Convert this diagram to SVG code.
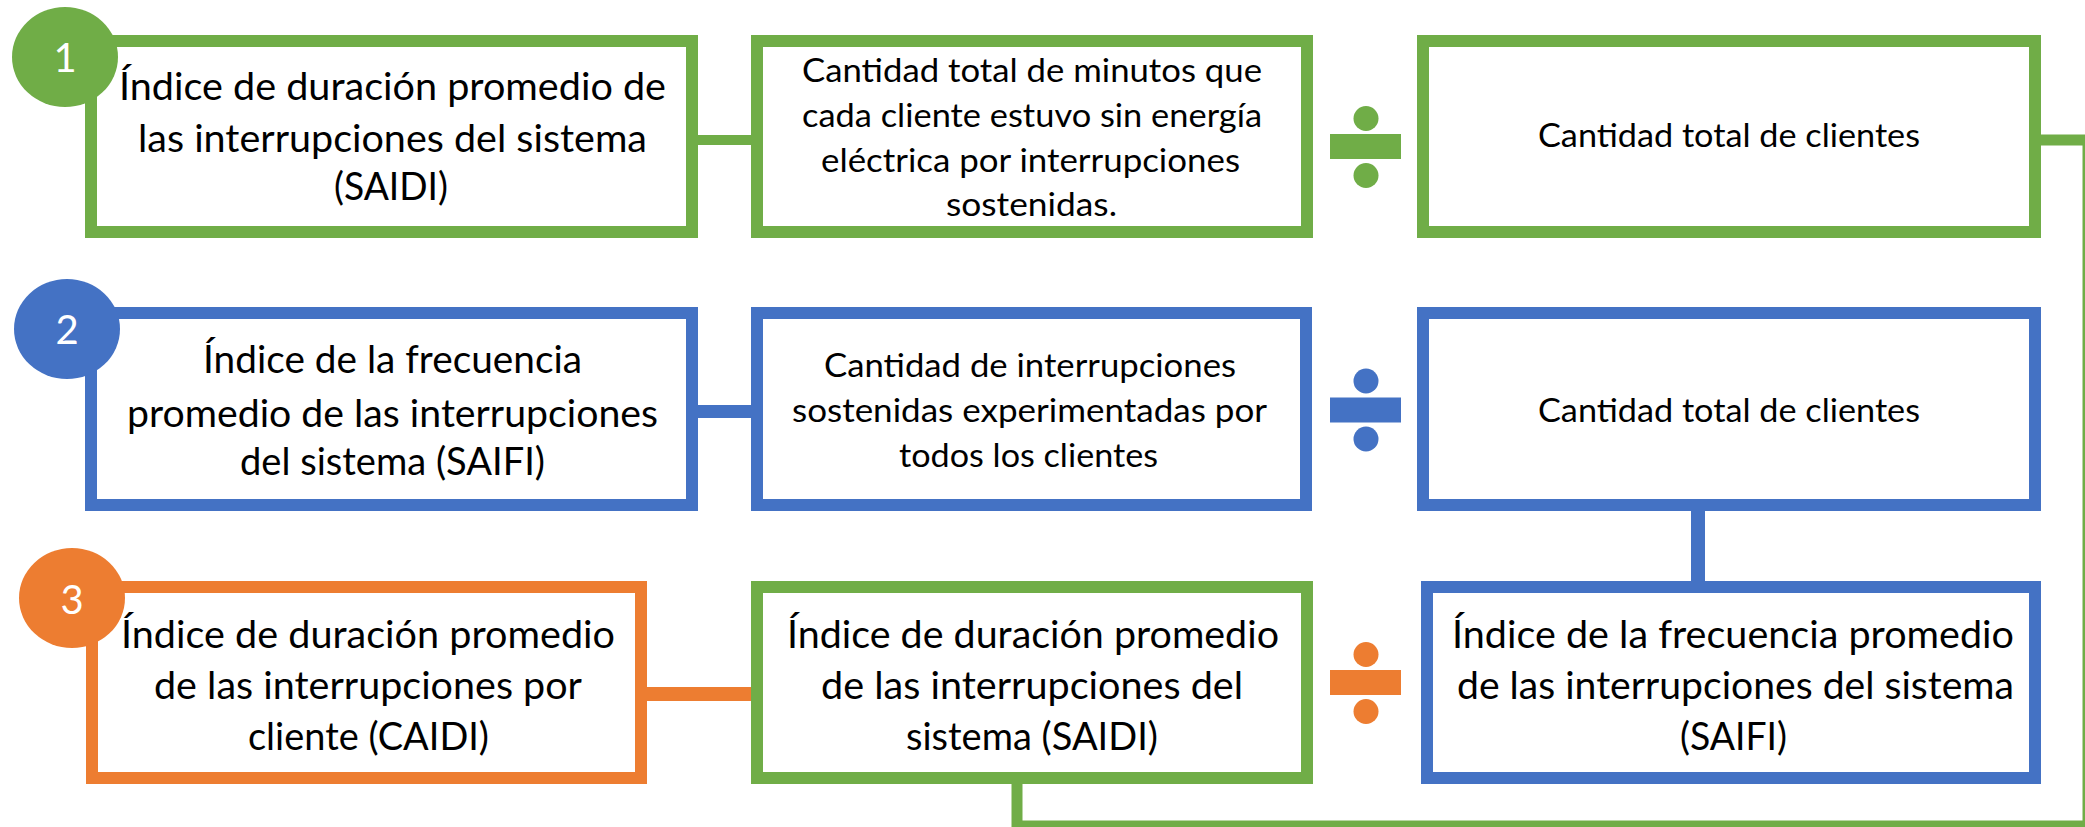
<svg xmlns="http://www.w3.org/2000/svg" width="2085" height="827" viewBox="0 0 2085 827">
<style>
  .box{fill:#ffffff;stroke-width:12}
  .g{stroke:#70AD47}
  .b{stroke:#4472C4}
  .o{stroke:#ED7D31}
  .t{font-family:Lato,"Liberation Sans",sans-serif;fill:#000000}
  .tl{font-size:38.5px}
  .ts{font-size:33.5px}
  .num{font-family:Lato,"Liberation Sans",sans-serif;font-size:40px;fill:#ffffff;text-anchor:middle}
  .gf{fill:#70AD47}
  .bf{fill:#4472C4}
  .of{fill:#ED7D31}
</style>
<rect x="0" y="0" width="2085" height="827" fill="#ffffff"/>

<g id="connectors" fill="none">
  <line x1="698" y1="140" x2="751" y2="140" stroke="#70AD47" stroke-width="10"/>
  <line x1="698" y1="411.5" x2="751" y2="411.5" stroke="#4472C4" stroke-width="13"/>
  <line x1="647" y1="694" x2="751" y2="694" stroke="#ED7D31" stroke-width="14"/>
  <line x1="1698" y1="511" x2="1698" y2="581" stroke="#4472C4" stroke-width="14"/>
  <path d="M2041,140 H2088 V826 H1017 V784" stroke="#70AD47" stroke-width="11"/>
</g>

<g id="saidi-index">
  <rect class="box g" x="91" y="41" width="601" height="191"/>
  <text class="t tl" x="119" y="100" textLength="547" lengthAdjust="spacingAndGlyphs">Índice de duración promedio de</text>
  <text class="t tl" x="138" y="151.5" textLength="509" lengthAdjust="spacingAndGlyphs">las interrupciones del sistema</text>
  <text class="t tl" x="334" y="200" textLength="114" lengthAdjust="spacingAndGlyphs">(SAIDI)</text>
</g>
<g id="saidi-numerator">
  <rect class="box g" x="757" y="41" width="550" height="191"/>
  <text class="t ts" x="802" y="81.7" textLength="460" lengthAdjust="spacingAndGlyphs">Cantidad total de minutos que</text>
  <text class="t ts" x="802" y="126.7" textLength="460" lengthAdjust="spacingAndGlyphs">cada cliente estuvo sin energía</text>
  <text class="t ts" x="821" y="171.7" textLength="419" lengthAdjust="spacingAndGlyphs">eléctrica por interrupciones</text>
  <text class="t ts" x="946" y="216" textLength="171" lengthAdjust="spacingAndGlyphs">sostenidas.</text>
</g>
<g id="div-1">
  <circle class="gf" cx="1366" cy="118.5" r="12.5"/>
  <rect class="gf" x="1330" y="134" width="71" height="25"/>
  <circle class="gf" cx="1366" cy="175.5" r="12.5"/>
</g>
<g id="saidi-denominator">
  <rect class="box g" x="1423" y="41" width="612" height="191"/>
  <text class="t ts" x="1538" y="146.7" textLength="382" lengthAdjust="spacingAndGlyphs">Cantidad total de clientes</text>
</g>

<g id="saifi-index">
  <rect class="box b" x="91" y="313" width="601" height="192"/>
  <text class="t tl" x="203" y="373.3" textLength="379" lengthAdjust="spacingAndGlyphs">Índice de la frecuencia</text>
  <text class="t tl" x="127" y="426.7" textLength="531" lengthAdjust="spacingAndGlyphs">promedio de las interrupciones</text>
  <text class="t tl" x="240" y="475" textLength="305" lengthAdjust="spacingAndGlyphs">del sistema (SAIFI)</text>
</g>
<g id="saifi-numerator">
  <rect class="box b" x="757" y="313" width="549" height="192"/>
  <text class="t ts" x="824" y="376.7" textLength="412" lengthAdjust="spacingAndGlyphs">Cantidad de interrupciones</text>
  <text class="t ts" x="792" y="421.7" textLength="475" lengthAdjust="spacingAndGlyphs">sostenidas experimentadas por</text>
  <text class="t ts" x="899" y="466.7" textLength="259" lengthAdjust="spacingAndGlyphs">todos los clientes</text>
</g>
<g id="div-2">
  <circle class="bf" cx="1366" cy="381" r="12.5"/>
  <rect class="bf" x="1330" y="397.5" width="71" height="25"/>
  <circle class="bf" cx="1366" cy="439" r="12.5"/>
</g>
<g id="saifi-denominator">
  <rect class="box b" x="1423" y="313" width="612" height="192"/>
  <text class="t ts" x="1538" y="421.7" textLength="382" lengthAdjust="spacingAndGlyphs">Cantidad total de clientes</text>
</g>

<g id="caidi-index">
  <rect class="box o" x="92" y="587" width="549" height="191"/>
  <text class="t tl" x="121" y="648.3" textLength="494" lengthAdjust="spacingAndGlyphs">Índice de duración promedio</text>
  <text class="t tl" x="154" y="699.3" textLength="428" lengthAdjust="spacingAndGlyphs">de las interrupciones por</text>
  <text class="t tl" x="248" y="750" textLength="241" lengthAdjust="spacingAndGlyphs">cliente (CAIDI)</text>
</g>
<g id="caidi-numerator">
  <rect class="box g" x="757" y="587" width="550" height="191"/>
  <text class="t tl" x="787" y="648.3" textLength="492" lengthAdjust="spacingAndGlyphs">Índice de duración promedio</text>
  <text class="t tl" x="821" y="699.3" textLength="422" lengthAdjust="spacingAndGlyphs">de las interrupciones del</text>
  <text class="t tl" x="906" y="750" textLength="252" lengthAdjust="spacingAndGlyphs">sistema (SAIDI)</text>
</g>
<g id="div-3">
  <circle class="of" cx="1366" cy="654.5" r="12.5"/>
  <rect class="of" x="1330" y="670" width="71" height="25"/>
  <circle class="of" cx="1366" cy="711.5" r="12.5"/>
</g>
<g id="caidi-denominator">
  <rect class="box b" x="1427" y="587" width="608" height="191"/>
  <text class="t tl" x="1452" y="648.3" textLength="562" lengthAdjust="spacingAndGlyphs">Índice de la frecuencia promedio</text>
  <text class="t tl" x="1457" y="699.3" textLength="557" lengthAdjust="spacingAndGlyphs">de las interrupciones del sistema</text>
  <text class="t tl" x="1680" y="750" textLength="107" lengthAdjust="spacingAndGlyphs">(SAIFI)</text>
</g>

<g id="badge-1">
  <ellipse class="gf" cx="65" cy="57" rx="53" ry="50"/>
  <text class="num" x="65" y="72">1</text>
</g>
<g id="badge-2">
  <ellipse class="bf" cx="67" cy="329" rx="53" ry="50"/>
  <text class="num" x="67" y="344">2</text>
</g>
<g id="badge-3">
  <ellipse class="of" cx="72" cy="598" rx="53" ry="50"/>
  <text class="num" x="72" y="614">3</text>
</g>
</svg>
